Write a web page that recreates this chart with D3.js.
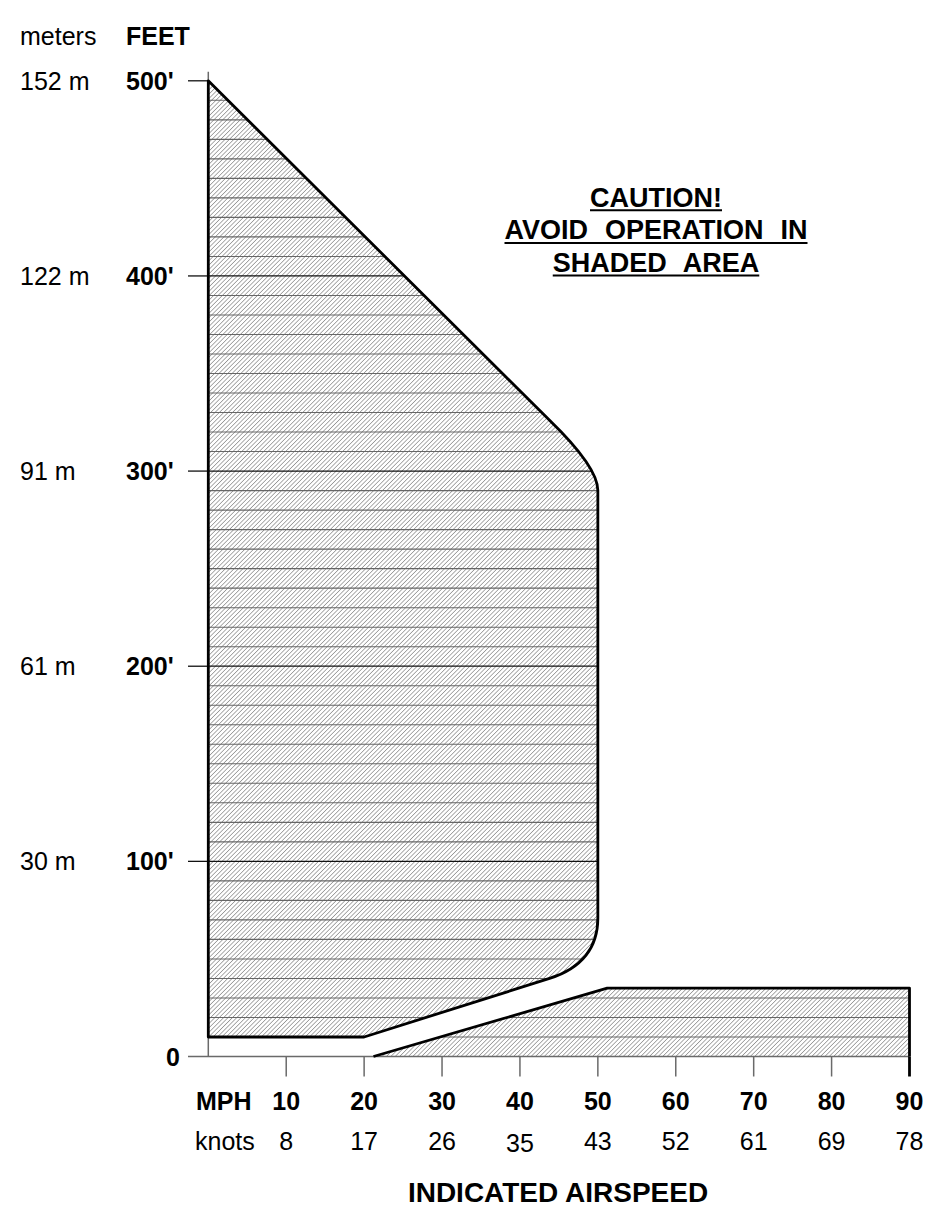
<!DOCTYPE html>
<html>
<head>
<meta charset="utf-8">
<script src="https://cdn.jsdelivr.net/npm/d3@7"></script>
<style>
  html, body { margin: 0; padding: 0; background: #fff; }
  svg { display: block; }
  text { font-family: "Liberation Sans", Arial, Helvetica, sans-serif; fill: #000; }
</style>
</head>
<body>
<svg id="chart" width="945" height="1216"></svg>
<script>
// ---------------- DATA ----------------
const mphTicks   = [10, 20, 30, 40, 50, 60, 70, 80, 90];
const knotLabels = ["8", "17", "26", "35", "43", "52", "61", "69", "78"];
const feetTicks  = [100, 200, 300, 400, 500];
const feetLabels = ["100'", "200'", "300'", "400'", "500'"];
const meterLabels = ["30 m", "61 m", "91 m", "122 m", "152 m"];
const gridFeet   = d3.range(10, 500, 10);   // 10-ft reference lines

// Avoid region outlines, [mph, feet]; "q" marks a rounding control point
const upperZone = [
  {mph: 0,    ft: 500},
  {mph: 43.8, ft: 326},
  {mph: 50,   ft: 302, q: true},
  {mph: 50,   ft: 290},
  {mph: 50,   ft: 71},
  {mph: 50,   ft: 48, q: true},
  {mph: 43.8, ft: 40},
  {mph: 20,   ft: 10},
  {mph: 0,    ft: 10}
];
const lowerZone = [
  {mph: 21.2, ft: 0},
  {mph: 51.2, ft: 35},
  {mph: 90,   ft: 35},
  {mph: 90,   ft: 0}
];
const cautionLines = ["CAUTION!", "AVOID OPERATION IN", "SHADED AREA"];

// ---------------- SCALES ----------------
const x = d3.scaleLinear().domain([0, 90]).range([208.3, 909.5]);
const y = d3.scaleLinear().domain([0, 500]).range([1056.5, 80.8]);

const svg = d3.select("#chart");
const defs = svg.append("defs");

// Diagonal hatch pattern
const pat = defs.append("pattern")
  .attr("id", "hatch").attr("patternUnits", "userSpaceOnUse")
  .attr("width", 3.1).attr("height", 3.1)
  .attr("patternTransform", "rotate(45)");
pat.append("rect").attr("width", 3.1).attr("height", 3.1).attr("fill", "#fff");
pat.append("line").attr("x1", 0).attr("y1", 0).attr("x2", 0).attr("y2", 3.1)
  .attr("stroke", "#777").attr("stroke-width", 1.2);

function zonePath(pts, close) {
  const p = d3.path();
  p.moveTo(x(pts[0].mph), y(pts[0].ft));
  for (let i = 1; i < pts.length; i++) {
    const d = pts[i];
    if (d.q) {
      const n = pts[i + 1];
      p.quadraticCurveTo(x(d.mph), y(d.ft), x(n.mph), y(n.ft));
      i++;
    } else {
      p.lineTo(x(d.mph), y(d.ft));
    }
  }
  if (close) p.closePath();
  return p.toString();
}

const upperD = zonePath(upperZone, true);
const lowerDClosed = zonePath(lowerZone, true);
const lowerDOpen = zonePath(lowerZone, false);

defs.append("clipPath").attr("id", "clipUpper").append("path").attr("d", upperD);
defs.append("clipPath").attr("id", "clipLower").append("path").attr("d", lowerDClosed);

// Fills
svg.append("path").attr("d", upperD).attr("fill", "url(#hatch)");
svg.append("path").attr("d", lowerDClosed).attr("fill", "url(#hatch)");

// Grid lines inside zones
["clipUpper", "clipLower"].forEach(cid => {
  svg.append("g").attr("clip-path", `url(#${cid})`)
    .selectAll("line").data(gridFeet).join("line")
    .attr("x1", x(0)).attr("x2", x(90))
    .attr("y1", d => y(d)).attr("y2", d => y(d))
    .attr("stroke", d => d % 100 === 0 ? "#111" : "#666")
    .attr("stroke-width", d => d % 100 === 0 ? 1.3 : 1.1);
});

// Axes
const axisColor = "#6a6a6a";
svg.append("line").attr("x1", x(0)).attr("x2", x(0))
  .attr("y1", y(500) - 9).attr("y2", y(0))
  .attr("stroke", axisColor).attr("stroke-width", 1.5);
svg.append("line").attr("x1", 188).attr("x2", x(90))
  .attr("y1", y(0)).attr("y2", y(0))
  .attr("stroke", axisColor).attr("stroke-width", 1.5);

// y ticks (left stubs)
svg.append("g").selectAll("line").data(feetTicks).join("line")
  .attr("x1", 188).attr("x2", x(0))
  .attr("y1", d => y(d)).attr("y2", d => y(d))
  .attr("stroke", "#111").attr("stroke-width", 1.3);

// x ticks
svg.append("g").selectAll("line").data(mphTicks.filter(d => d < 90)).join("line")
  .attr("x1", d => x(d)).attr("x2", d => x(d))
  .attr("y1", y(0)).attr("y2", y(0) + 20)
  .attr("stroke", axisColor).attr("stroke-width", 1.5);

// Outlines
svg.append("path").attr("d", upperD).attr("fill", "none")
  .attr("stroke", "#000").attr("stroke-width", 2.8).attr("stroke-linejoin", "round");
svg.append("path").attr("d", lowerDOpen).attr("fill", "none")
  .attr("stroke", "#000").attr("stroke-width", 2.8).attr("stroke-linejoin", "round");
// 90 mph tick continues the right edge
svg.append("line").attr("x1", x(90)).attr("x2", x(90))
  .attr("y1", y(0)).attr("y2", y(0) + 20)
  .attr("stroke", "#000").attr("stroke-width", 2.8);

// ---------------- TEXT ----------------
const fs = 25;
svg.append("text").attr("x", 20).attr("y", 45).attr("font-size", fs).text("meters");
svg.append("text").attr("x", 126).attr("y", 45).attr("font-size", fs).attr("font-weight", "bold").text("FEET");

svg.append("g").selectAll("text").data(feetTicks).join("text")
  .attr("x", 20).attr("y", d => y(d) + 9).attr("font-size", fs)
  .text((d, i) => meterLabels[i]);
svg.append("g").selectAll("text").data(feetTicks).join("text")
  .attr("x", 126).attr("y", d => y(d) + 9).attr("font-size", fs).attr("font-weight", "bold")
  .text((d, i) => feetLabels[i]);
svg.append("text").attr("x", 180).attr("y", y(0) + 9).attr("text-anchor", "end")
  .attr("font-size", fs).attr("font-weight", "bold").text("0");

// x labels
svg.append("text").attr("x", 196).attr("y", 1110).attr("font-size", fs).attr("font-weight", "bold").text("MPH");
svg.append("text").attr("x", 195).attr("y", 1150).attr("font-size", fs).text("knots");
svg.append("g").selectAll("text").data(mphTicks).join("text")
  .attr("x", d => x(d)).attr("y", 1110).attr("text-anchor", "middle")
  .attr("font-size", fs).attr("font-weight", "bold").text(d => d);
svg.append("g").selectAll("text").data(mphTicks).join("text")
  .attr("x", d => x(d)).attr("y", (d, i) => knotLabels[i] === "35" ? 1152 : 1150)
  .attr("text-anchor", "middle")
  .attr("font-size", fs).text((d, i) => knotLabels[i]);

svg.append("text").attr("x", 558).attr("y", 1202).attr("text-anchor", "middle")
  .attr("font-size", 28).attr("font-weight", "bold").text("INDICATED AIRSPEED");

// Caution block
const cx = 656;
cautionLines.forEach((t, i) => {
  const by = 206.5 + i * 32.6;
  const tx = svg.append("text").attr("x", cx).attr("y", by).attr("text-anchor", "middle")
    .attr("font-size", 27).attr("font-weight", "bold")
    .attr("word-spacing", 9.5)
    .text(t);
  const bb = tx.node().getBBox();
  svg.append("line").attr("x1", bb.x).attr("x2", bb.x + bb.width)
    .attr("y1", by + 3.8).attr("y2", by + 3.8)
    .attr("stroke", "#000").attr("stroke-width", 2);
});
</script>
</body>
</html>
